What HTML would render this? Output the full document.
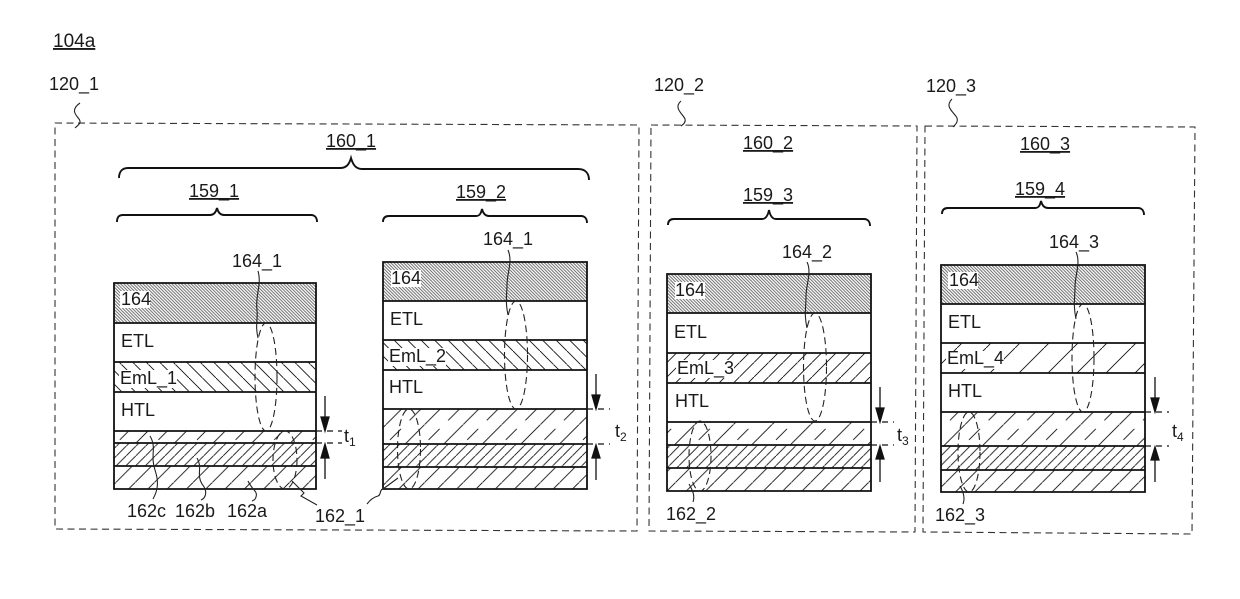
<!DOCTYPE html>
<html><head><meta charset="utf-8"><style>
html,body{margin:0;padding:0;background:#fff}
svg{display:block}
text{font-family:"Liberation Sans",sans-serif;font-size:18px;fill:#1a1a1a}
.u{text-decoration:underline}
.box{fill:none;stroke:#333;stroke-width:1.1;stroke-dasharray:7 4.5}
.s{fill:none;stroke:#111;stroke-width:1.8}
.b{fill:none;stroke:#111;stroke-width:1.9}
.l{fill:none;stroke:#222;stroke-width:1.1}
.e{fill:none;stroke:#222;stroke-width:1.1;stroke-dasharray:7 4}
.d{fill:none;stroke:#111;stroke-width:1.2;stroke-dasharray:6 5}
.w{fill:#fff}
</style></head><body>
<svg width="1240" height="599" viewBox="0 0 1240 599" xmlns="http://www.w3.org/2000/svg">
<defs>
<pattern id="h164" width="3.2" height="3.2" patternUnits="userSpaceOnUse"><rect width="3.2" height="3.2" fill="#fff"/><path d="M-1,-1L4.2,4.2M-1,2.2L1,4.2M2.2,-1L4.2,1" stroke="#666" stroke-width="0.9"/></pattern>
<pattern id="emA" width="13.5" height="13.5" patternUnits="userSpaceOnUse"><path d="M-1,-1L14.5,14.5" stroke="#111" stroke-width="0.9"/></pattern>
<pattern id="emB" width="14.5" height="14.5" patternUnits="userSpaceOnUse"><path d="M-1,15.5L15.5,-1" stroke="#111" stroke-width="0.9"/></pattern>
<pattern id="emC" width="29" height="29" patternUnits="userSpaceOnUse"><path d="M-1,30L30,-1" stroke="#111" stroke-width="0.9"/></pattern>
<pattern id="a" width="19.3" height="19.3" patternUnits="userSpaceOnUse"><path d="M-1,20.3L20.3,-1" stroke="#111" stroke-width="0.9"/></pattern>
<pattern id="bb" width="9.7" height="9.7" patternUnits="userSpaceOnUse"><path d="M-1,10.7L10.7,-1" stroke="#111" stroke-width="0.9"/></pattern>
<pattern id="c" width="38.6" height="38.6" patternUnits="userSpaceOnUse"><path d="M-1,39.6L39.6,-1M4,15.3L15,4.3M23.6,34.3L34.6,23.3" stroke="#111" stroke-width="0.9"/></pattern>
</defs>

<!-- dashed boxes -->
<path class="box" d="M55,123L639,125L637,531L55,529Z"/>
<path class="box" d="M651,125L917,126L915,532L649,531Z"/>
<path class="box" d="M925,126L1195,127L1192,534L923,532Z"/>

<!-- stack 1 -->
<rect x="114" y="283" width="202" height="40" fill="url(#h164)"/>
<rect x="114" y="362" width="202" height="30" fill="url(#emA)"/>
<rect x="114" y="431" width="202" height="12" fill="url(#c)"/>
<rect x="114" y="443" width="202" height="23" fill="url(#bb)"/>
<rect x="114" y="466" width="202" height="23" fill="url(#a)"/>
<path class="s" d="M114,283H316V489H114ZM114,323H316M114,362H316M114,392H316M114,431H316M114,443H316M114,466H316"/>
<rect class="w" x="120" y="291" width="30" height="17"/><rect class="w" x="119" y="370" width="58" height="18"/>
<text x="121" y="305">164</text><text x="121" y="347">ETL</text><text x="120" y="384">EmL_1</text><text x="121" y="416">HTL</text>

<!-- stack 2 -->
<rect x="383" y="262" width="204" height="39" fill="url(#h164)"/>
<rect x="383" y="340" width="204" height="30" fill="url(#emA)"/>
<rect x="383" y="409" width="204" height="35" fill="url(#c)"/>
<rect x="383" y="444" width="204" height="23" fill="url(#bb)"/>
<rect x="383" y="467" width="204" height="22" fill="url(#a)"/>
<path class="s" d="M383,262H587V489H383ZM383,301H587M383,340H587M383,370H587M383,409H587M383,444H587M383,467H587"/>
<rect class="w" x="391" y="270" width="30" height="17"/><rect class="w" x="388" y="348" width="58" height="18"/>
<text x="391" y="284">164</text><text x="390" y="325">ETL</text><text x="389" y="362">EmL_2</text><text x="389" y="393">HTL</text>

<!-- stack 3 -->
<rect x="667" y="274" width="204" height="39" fill="url(#h164)"/>
<rect x="667" y="353" width="204" height="30" fill="url(#emB)"/>
<rect x="667" y="422" width="204" height="23" fill="url(#c)"/>
<rect x="667" y="445" width="204" height="23" fill="url(#bb)"/>
<rect x="667" y="468" width="204" height="23" fill="url(#a)"/>
<path class="s" d="M667,274H871V491H667ZM667,313H871M667,353H871M667,383H871M667,422H871M667,445H871M667,468H871"/>
<rect class="w" x="675" y="282" width="30" height="17"/><rect class="w" x="676" y="360" width="58" height="18"/>
<text x="675" y="296">164</text><text x="674" y="338">ETL</text><text x="677" y="374">EmL_3</text><text x="675" y="407">HTL</text>

<!-- stack 4 -->
<rect x="941" y="265" width="204" height="39" fill="url(#h164)"/>
<rect x="941" y="343" width="204" height="30" fill="url(#emC)"/>
<rect x="941" y="412" width="204" height="34" fill="url(#c)"/>
<rect x="941" y="446" width="204" height="24" fill="url(#bb)"/>
<rect x="941" y="470" width="204" height="22" fill="url(#a)"/>
<path class="s" d="M941,265H1145V492H941ZM941,304H1145M941,343H1145M941,373H1145M941,412H1145M941,446H1145M941,470H1145"/>
<rect class="w" x="948" y="272" width="30" height="17"/><rect class="w" x="946" y="351" width="58" height="18"/>
<text x="949" y="286">164</text><text x="948" y="328">ETL</text><text x="947" y="364">EmL_4</text><text x="948" y="397">HTL</text>

<!-- ellipses -->
<ellipse class="e" cx="266" cy="377" rx="11" ry="54"/>
<ellipse class="e" cx="285" cy="460" rx="12" ry="29"/>
<ellipse class="e" cx="516" cy="355" rx="11.5" ry="54"/>
<ellipse class="e" cx="409" cy="449" rx="11.5" ry="40"/>
<ellipse class="e" cx="815" cy="367" rx="11.5" ry="54"/>
<ellipse class="e" cx="700" cy="456" rx="11" ry="35"/>
<ellipse class="e" cx="1083" cy="358" rx="11" ry="54"/>
<ellipse class="e" cx="969" cy="452" rx="11" ry="40"/>

<!-- braces -->
<path class="b" d="M119,178C119,172 122,168 128,168H340C346,168 349,165 351,158C353,165 356,169 362,169H578C585,169 589,173 589,180"/>
<path class="b" d="M117,222C117,217 119,215 123,215H210C214,215 216,212 217,208C218,212 220,215 224,215H311C315,215 317,218 317,222"/>
<path class="b" d="M383,222C383,218 385,216 389,216H476C480,216 481,213 482,209C483,213 485,216 489,216H581C585,216 587,219 587,223"/>
<path class="b" d="M668,225C668,221 670,219 674,219H762C766,219 768,215 769,210C770,215 772,219 776,219H864C868,219 870,222 870,226"/>
<path class="b" d="M942,214C942,210 944,208 948,208H1035C1039,208 1040,205 1041,201C1042,205 1044,208 1048,208H1138C1142,208 1144,211 1144,215"/>

<!-- leaders -->
<path class="l" d="M80,103C70,110 76,115 79,119C82,123 78,125 75,128"/>
<path class="l" d="M681,101C673,108 683,114 685,119C686,122 684,124 681,126"/>
<path class="l" d="M952,99C944,107 954,112 957,118C958,122 956,124 953,127"/>
<path class="l" d="M258,271C262,285 255,295 257,310C258,320 255,325 258,338"/>
<path class="l" d="M508,250C513,262 507,272 507,285C507,295 505,300 508,315"/>
<path class="l" d="M807,262C812,272 806,285 806,296C806,308 804,315 807,328"/>
<path class="l" d="M1076,252C1081,262 1075,275 1075,287C1075,297 1073,305 1076,319"/>
<path class="l" d="M150,436C157,448 150,455 155,470C159,482 158,490 153,499"/>
<path class="l" d="M197,458C203,468 196,474 202,484C208,491 206,498 201,500"/>
<path class="l" d="M248,481C252,490 258,491 256,497C255,500 254,500 252,501"/>
<path class="l" d="M292,481L304,493L301,496L317,505"/>
<path class="l" d="M382,489C379,493 381,495 378,496C374,497 370,500 367,504"/>
<path class="l" d="M398,478L383,489"/>
<path class="l" d="M689,484C693,491 695,496 693,502"/>
<path class="l" d="M960,486C964,493 965,499 963,504"/>

<!-- thickness arrows -->
<path class="d" d="M316,431H342M316,443H342"/>
<path class="d" d="M587,409H610M587,444H610"/>
<path class="d" d="M871,422H894M871,445H894"/>
<path class="d" d="M1145,412H1169M1145,446H1169"/>
<g fill="#111" stroke="#111" stroke-width="1.3">
<path d="M325,396V418"/><path d="M321,417H329L325,431Z"/>
<path d="M325,479V458"/><path d="M321,458H329L325,444Z"/>
<path d="M596,374V396"/><path d="M592,395H600L596,409Z"/>
<path d="M596,480V458"/><path d="M592,458H600L596,445Z"/>
<path d="M880,387V409"/><path d="M876,408H884L880,422Z"/>
<path d="M880,482V459"/><path d="M876,459H884L880,446Z"/>
<path d="M1155,377V399"/><path d="M1151,398H1159L1155,412Z"/>
<path d="M1155,482V460"/><path d="M1151,460H1159L1155,447Z"/>
</g>
<text x="344" y="442">t<tspan font-size="12" dy="4">1</tspan></text>
<text x="615" y="437">t<tspan font-size="12" dy="4">2</tspan></text>
<text x="897" y="441">t<tspan font-size="12" dy="4">3</tspan></text>
<text x="1172" y="437">t<tspan font-size="12" dy="4">4</tspan></text>

<!-- labels -->
<text class="u" x="53" y="47" style="font-size:19px">104a</text>
<text x="49" y="90">120_1</text>
<text x="654" y="91">120_2</text>
<text x="926" y="92">120_3</text>
<text class="u" x="326" y="147">160_1</text>
<text class="u" x="189" y="197">159_1</text>
<text class="u" x="456" y="198">159_2</text>
<text class="u" x="743" y="149">160_2</text>
<text class="u" x="743" y="201">159_3</text>
<text class="u" x="1020" y="150">160_3</text>
<text class="u" x="1015" y="195">159_4</text>
<text x="232" y="267">164_1</text>
<text x="483" y="245">164_1</text>
<text x="782" y="258">164_2</text>
<text x="1049" y="248">164_3</text>
<text x="127" y="517">162c</text>
<text x="175" y="517">162b</text>
<text x="227" y="517">162a</text>
<text x="315" y="522">162_1</text>
<text x="666" y="520">162_2</text>
<text x="935" y="521">162_3</text>
</svg>
</body></html>
